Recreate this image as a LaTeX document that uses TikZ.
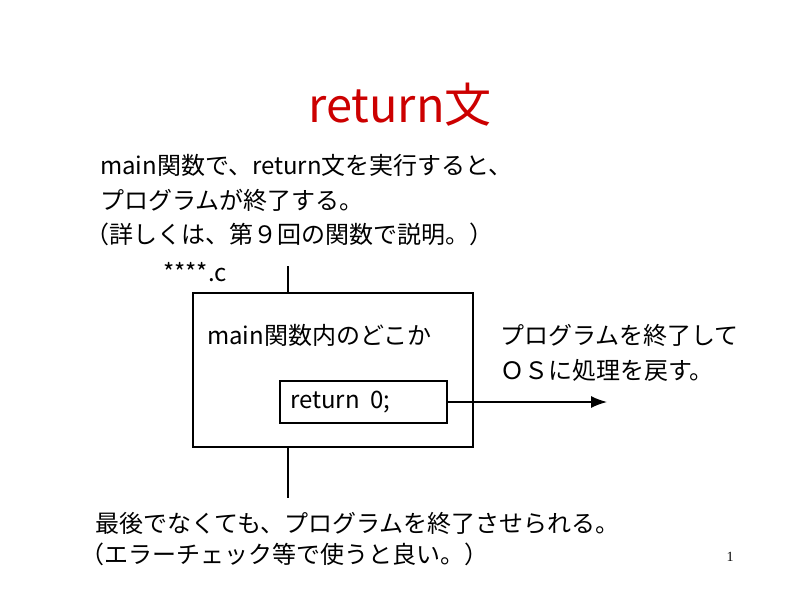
\documentclass[tikz,border=0pt]{standalone}
\usepackage{fontspec}
\usetikzlibrary{arrows.meta}
\setmainfont{Noto Sans CJK JP}
\newfontfamily\numfont{Liberation Serif}
\begin{document}
\begin{tikzpicture}[x=1pt,y=-1pt,
  txt/.style={anchor=west,inner sep=0pt,font=\fontsize{24}{28}\selectfont},
  boxline/.style={draw,line width=1.6pt}]
\useasboundingbox (0,0) rectangle (800,600);
\node[text=red!80!black,font=\fontsize{47}{50}\selectfont] (title) at (400,105) {return文};
\node[txt] (l1) at (100,165) {main関数で、return文を実行すると、};
\node[txt] (l2) at (100,200) {プログラムが終了する。};
\node[txt] (l3) at (85,234) {（詳しくは、第９回の関数で説明。）};
\node[txt] (file) at (163,272) {****.c};
\node[boxline,minimum width=280pt,minimum height=154pt,inner sep=0pt] (outer) at (333,370) {};
\node[txt] (inside) at (207,335) {main関数内のどこか};
\node[boxline,minimum width=167pt,minimum height=42pt,inner sep=0pt] (ret) at (363.5,402) {};
\node[txt] (rettxt) at (290,402) {return\ \ 0;};
\coordinate (top) at (288,266);
\coordinate (bot) at (288,498);
\coordinate (end) at (607,402);
\draw[line width=1.6pt] (top) -- (top|-outer.north);
\draw[line width=1.6pt] (bot|-outer.south) -- (bot);
\draw[line width=1.4pt,-{Latex[length=16pt,width=12pt]}] (ret.east) -- (end);
\node[txt] (r1) at (500,335) {プログラムを終了して};
\node[txt] (r2) at (500,370) {ＯＳに処理を戻す。};
\node[txt] (b1) at (95,523) {最後でなくても、プログラムを終了させられる。};
\node[txt] (b2) at (80,554) {（エラーチェック等で使うと良い。）};
\node[font=\numfont\fontsize{14}{16}\selectfont] (pg) at (730,557) {1};
\end{tikzpicture}
\end{document}
